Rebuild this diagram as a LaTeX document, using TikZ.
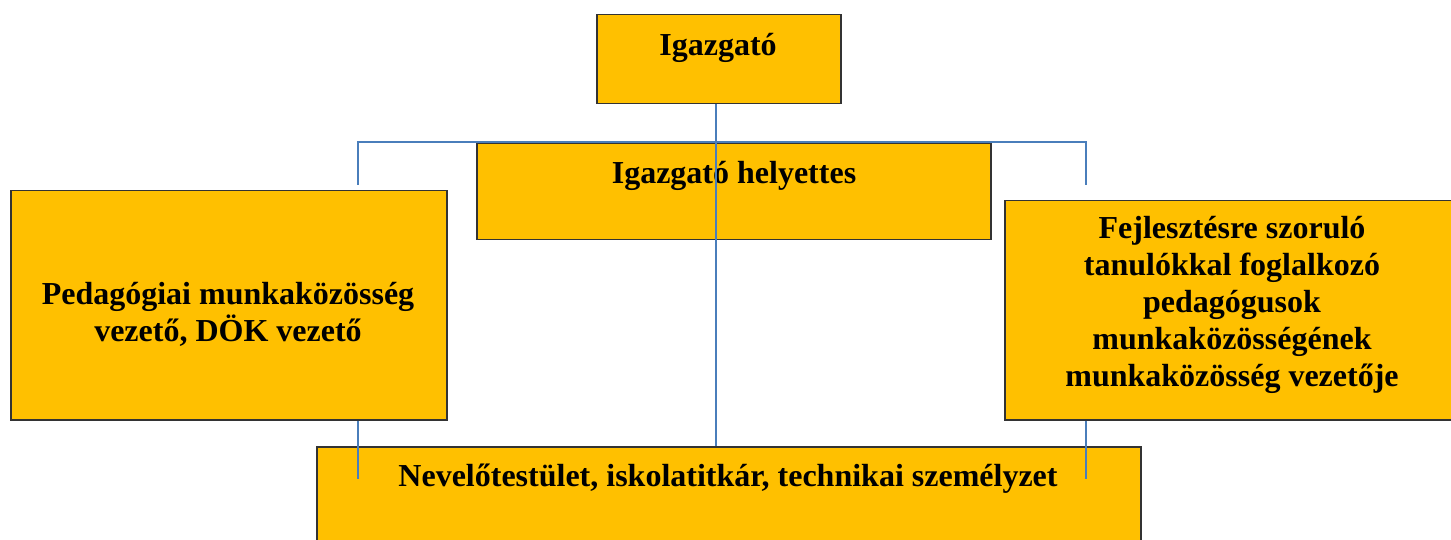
\documentclass[tikz,border=0pt]{standalone}
\usepackage{fontspec}
\setmainfont{Liberation Serif}
\definecolor{boxfill}{HTML}{FFC000}
\definecolor{boxline}{HTML}{333333}
\definecolor{connblue}{HTML}{4A7EBB}
\begin{document}
\begin{tikzpicture}[x=1pt,y=-1pt,
  orgbox/.style={draw=boxline,line width=1.5pt,fill=boxfill,inner sep=0pt},
  orgtext/.style={anchor=base,align=center,inner sep=0pt,font=\fontsize{32}{37}\selectfont\bfseries},
  conn/.style={draw=connblue,line width=1.6pt}]
\useasboundingbox (0,0) rectangle (1451,540);
\clip (0,0) rectangle (1451,540);
% boxes
\node[orgbox,minimum width=244pt,minimum height=89pt,anchor=north west] (igaz) at (596,14) {};
\node[orgbox,minimum width=514pt,minimum height=96pt,anchor=north west] (helyt) at (476,143) {};
\node[orgbox,minimum width=436pt,minimum height=229pt,anchor=north west] (ped) at (10,190) {};
\node[orgbox,minimum width=456pt,minimum height=219pt,anchor=north west] (fejl) at (1004,200) {};
\node[orgbox,minimum width=824pt,minimum height=130pt,anchor=north west] (nev) at (316,446) {};
% texts (anchor base = baseline of last line)
\node[orgtext] (t-igaz) at (718,56) {Igazgató};
\node[orgtext] (t-helyt) at (734,184) {Igazgató helyettes};
\node[orgtext] (t-ped) at (228,341) {Pedagógiai munkaközösség\\vezető, DÖK vezető};
\node[orgtext] (t-fejl) at (1232,386) {Fejlesztésre szoruló\\tanulókkal foglalkozó\\pedagógusok\\munkaközösségének\\munkaközösség vezetője};
\node[orgtext] (t-nev) at (728,486) {Nevelőtestület, iskolatitkár, technikai személyzet};
% connector coordinates
\coordinate (stem) at (716,103);
\coordinate (barL) at (358,142);
\coordinate (barR) at (1086,142);
\coordinate (dropL) at (358,185);
\coordinate (dropR) at (1086,185);
\coordinate (lowL) at (358,479);
\coordinate (lowR) at (1086,479);
% connectors
\draw[conn] (stem |- igaz.south) -- (stem |- nev.north);
\draw[conn] (dropL) -- (barL) -- (barR) -- (dropR);
\draw[conn] (lowL |- ped.south) -- (lowL);
\draw[conn] (lowR |- fejl.south) -- (lowR);
\end{tikzpicture}
\end{document}
